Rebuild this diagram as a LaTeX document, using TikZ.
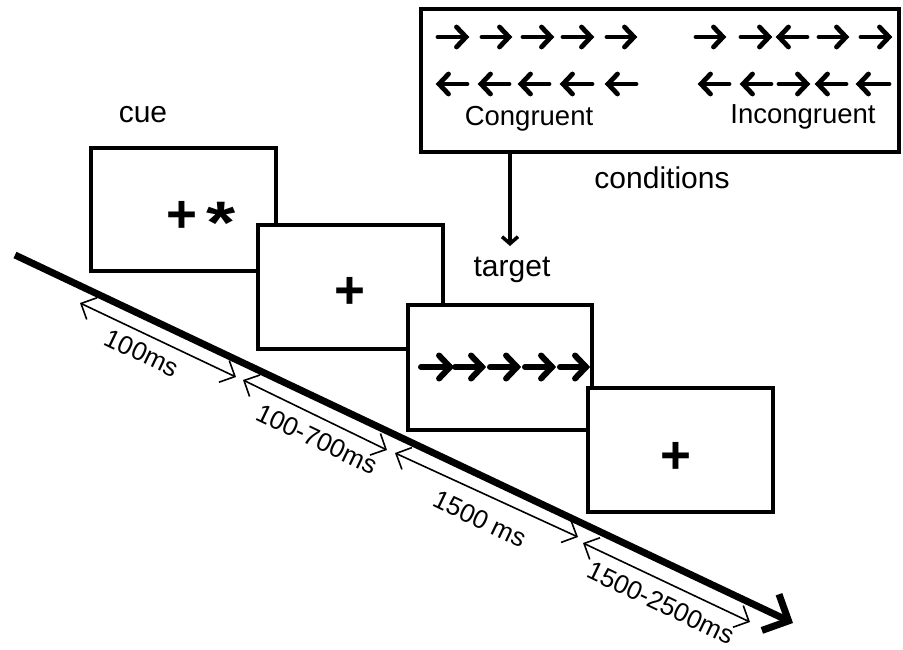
\documentclass[tikz,border=0pt]{standalone}
\usepackage{fontspec}
\usepackage{graphicx}
\setmainfont{Liberation Sans}
\usetikzlibrary{arrows.meta}
\tikzset{
  frame/.style={draw=black,fill=white,line width=3.5pt},
  glyph/.style={line width=#1,line cap=round,line join=miter,black},
  glyph/.default=4pt,
  lbl/.style={font=\fontsize{30}{36}\selectfont,inner sep=0pt,anchor=base},
  cond/.style={font=\fontsize{27.5}{33}\selectfont,inner sep=0pt,anchor=base},
  dur/.style={font=\fontsize{26}{31}\selectfont,inner sep=0pt,rotate=-25.5},
  plus/.style={font=\fontsize{53}{60}\selectfont\bfseries,inner sep=0pt,anchor=base},
  star/.style={font=\fontsize{60}{70}\selectfont\bfseries,inner sep=0pt,anchor=base},
  span/.style={line width=1.6pt,{Straight Barb[length=12pt,width=24pt]}-{Straight Barb[length=12pt,width=24pt]}},
}
% right / left arrow glyphs: #1 left x, #2 right x, #3 y, #4 half height, #5 width
\newcommand\MyRA[5]{\draw[glyph=#5] (#1,#3) -- (#2,#3); \draw[glyph=#5] ({#2-0.95*#4},{#3-#4}) -- (#2,#3) -- ({#2-0.95*#4},{#3+#4});}
\newcommand\MyLA[5]{\draw[glyph=#5] (#1,#3) -- (#2,#3); \draw[glyph=#5] ({#1+0.95*#4},{#3-#4}) -- (#1,#3) -- ({#1+0.95*#4},{#3+#4});}
\begin{document}
\begin{tikzpicture}[x=1pt,y=-1pt]
\useasboundingbox (0,0) rectangle (903,649);
\fill[white] (0,0) rectangle (903,649);

% conditions box
\draw[frame] (421,9) rectangle (899,152);
\coordinate (condS) at (510,152);
\coordinate (condE) at (510,246);
\draw[line width=3.5pt,-{Straight Barb[length=7pt,width=16pt]}] (condS) -- (condE);

% congruent arrows
\MyRA{438}{466}{37}{10}{4.8pt}
\MyRA{482}{509}{37}{10}{4.8pt}
\MyRA{523}{551}{37}{10}{4.8pt}
\MyRA{563}{591}{37}{10}{4.8pt}
\MyRA{607}{634}{37}{10}{4.8pt}
\MyLA{439}{467}{84}{10}{4.8pt}
\MyLA{481}{509}{84}{10}{4.8pt}
\MyLA{521}{549}{84}{10}{4.8pt}
\MyLA{563}{592}{84}{10}{4.8pt}
\MyLA{608}{636}{84}{10}{4.8pt}
% incongruent arrows
\MyRA{696}{723}{37}{10}{4.8pt}
\MyRA{741}{769}{37}{10}{4.8pt}
\MyLA{779}{807}{37}{10}{4.8pt}
\MyRA{819}{846}{37}{10}{4.8pt}
\MyRA{861}{889}{37}{10}{4.8pt}
\MyLA{701}{729}{84}{10}{4.8pt}
\MyLA{743}{771}{84}{10}{4.8pt}
\MyRA{779}{807}{84}{10}{4.8pt}
\MyLA{818}{846}{84}{10}{4.8pt}
\MyLA{859}{889}{84}{10}{4.8pt}
\node[cond] (congr) at (529,125) {Congruent};
\node[cond] (incongr) at (803,123) {Incongruent};

% labels
\node[lbl] (cue) at (143,122) {cue};
\node[lbl] (conditions) at (662,188) {conditions};
\node[lbl] (target) at (512,276) {target};

% screens
\draw[frame] (91,148) rectangle (276,271);
\node[plus] (p1) at (182,232.5) {+};
\node[star] (s1) at (221,243.5) {\scalebox{1.25}[1]{*}};
\draw[frame] (258,225) rectangle (443,349);
\node[plus] (p2) at (350,308.5) {+};
\draw[frame] (408,305) rectangle (592,430);
\MyRA{421}{450}{367}{11.5}{6pt}
\MyRA{455}{482}{367}{11.5}{6pt}
\MyRA{490}{517}{367}{11.5}{6pt}
\MyRA{525}{552}{367}{11.5}{6pt}
\MyRA{560}{586}{367}{11.5}{6pt}
\draw[frame] (588,388) rectangle (773,512);
\node[plus] (p4) at (676,473.5) {+};

% time line
\coordinate (t0) at (15,255);
\coordinate (t1) at (793,623);
\draw[line width=7pt,-{Straight Barb[length=20pt,width=40pt]}] (t0) -- (t1);

% durations
\coordinate (d0) at (80,303);
\coordinate (d1) at (236,377);
\coordinate (d2) at (243,380);
\coordinate (d3) at (387,450);
\coordinate (d4) at (395,453);
\coordinate (d5) at (578,537);
\coordinate (d6) at (583,543);
\coordinate (d7) at (750,622);
\draw[span] (d0) -- (d1);
\draw[span] (d2) -- (d3);
\draw[span] (d4) -- (d5);
\draw[span] (d6) -- (d7);
\node[dur] (l1) at (142,353) {100ms};
\node[dur] (l2) at (317,439) {100-700ms};
\node[dur] (l3) at (480,519) {1500 ms};
\node[dur] (l4) at (661,603) {1500-2500ms};
\end{tikzpicture}
\end{document}
